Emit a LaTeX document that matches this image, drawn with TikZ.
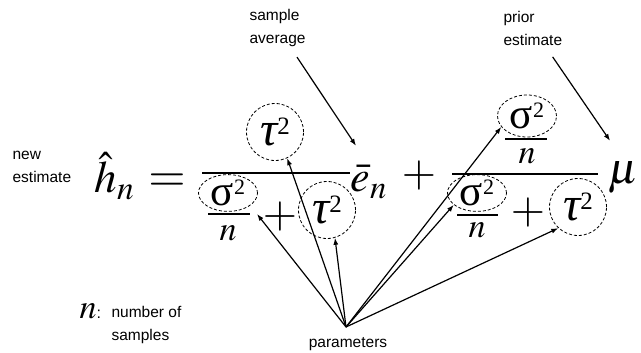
\documentclass[tikz,border=0pt]{standalone}
\usepackage{mathptmx}
\usepackage[no-math]{fontspec}
\newfontfamily\lab{Liberation Sans}
\newfontfamily\grk{Liberation Serif}
\usetikzlibrary{arrows.meta,shapes.geometric}
% tau^2 and sigma^2
\newcommand{\tsq}{{\fontsize{48}{48}\selectfont\grk\itshape τ\upshape\raisebox{11pt}{\fontsize{25}{25}\selectfont 2}}}
\newcommand{\ssq}{{\fontsize{43}{43}\selectfont\grk σ\raisebox{11pt}{\fontsize{22}{22}\selectfont 2}}}
\tikzset{
	lbl/.style={font=\fontsize{15.5}{23}\selectfont\lab,align=left,inner sep=2pt},
	sym/.style={font=\fontsize{44}{48}\selectfont,inner sep=0pt},
	nsym/.style={font=\fontsize{34}{36}\selectfont,inner sep=0pt},
	tcirc/.style={circle,draw,dash pattern=on 3pt off 2pt,line width=0.8pt,minimum size=57pt,inner sep=0pt},
	sell/.style={ellipse,draw,dash pattern=on 3pt off 2pt,line width=0.8pt,minimum width=59pt,minimum height=34pt,inner sep=0pt},
	fbar/.style={line width=1.5pt}
}
\begin{document}
\begin{tikzpicture}[x=1pt,y=-1pt,line join=round,>={Latex[length=7pt,width=5pt]},line width=1.2pt]
	\useasboundingbox (0,0) rectangle (641,353);
	% labels
	\node[lbl,anchor=west] (savg) at (247,28) {sample\\average};
	\node[lbl,anchor=west] (prior) at (501,28) {prior\\estimate};
	\node[lbl,anchor=west] (newest) at (10,167) {new\\estimate};
	\node[lbl] (params) at (348,344) {parameters};
	\node[lbl,anchor=west] (nsamp) at (109,325) {number of\\samples};
	\node[nsym,anchor=base west] (nvar) at (79,318) {$n${\lab\fontsize{16}{16}\selectfont:}};
	% left side
	\node[sym,font=\fontsize{45}{50}\selectfont,anchor=base west] (hhat) at (94,193) {$\hat{h}_n$};
	\node[sym,font=\fontsize{48}{52}\selectfont,anchor=base] (eq) at (167,192) {$=$};
	% first fraction
	\node[tcirc] (tauA) at (275,132) {\tsq};
	\draw[fbar] (202,173) -- (350,173);
	\node[sell] (sigA) at (228,193) {\ssq};
	\draw[fbar] (208,214) -- (250,214) coordinate (barA);
	\node[nsym] (nA) at (228,233) {$n$};
	\node[sym] (plusA) at (280,217) {$+$};
	\node[tcirc] (tauB) at (327,210) {\tsq};
	\node[sym,anchor=base west] (ebar) at (350,192) {$\bar{e}_n$};
	\node[sym] (plusB) at (419,176) {$+$};
	% second fraction
	\node[sell,minimum height=42pt] (sigB) at (527,116) {\ssq};
	\draw[fbar] (505,139) -- (547,139);
	\node[nsym] (nB) at (527,156) {$n$};
	\draw[fbar] (452,174) -- (598,174);
	\node[sell] (sigC) at (477,193) {\ssq};
	\draw[fbar] (457,215) -- (498,215);
	\node[nsym] (nC) at (477,230) {$n$};
	\node[sym] (plusC) at (528,213) {$+$};
	\node[tcirc] (tauC) at (578,207) {\tsq};
	\node[sym,anchor=base west] (mu) at (608,183) {$\mu$};
	% arrows
	\draw[->,shorten <=35pt,shorten >=23pt] (savg.center) -- (ebar.north);
	\draw[->,shorten <=35pt,shorten >=24pt] (prior.center) -- (mu.north);
	\coordinate (base) at (346,327);
	\foreach \t in {tauA.-65,tauB.-74,sigB.-157,sigC.-153,tauC.-133}
	\draw[->] (base) -- (\t);
	\draw[->] (base) -- ([xshift=7pt]barA);
\end{tikzpicture}
\end{document}
